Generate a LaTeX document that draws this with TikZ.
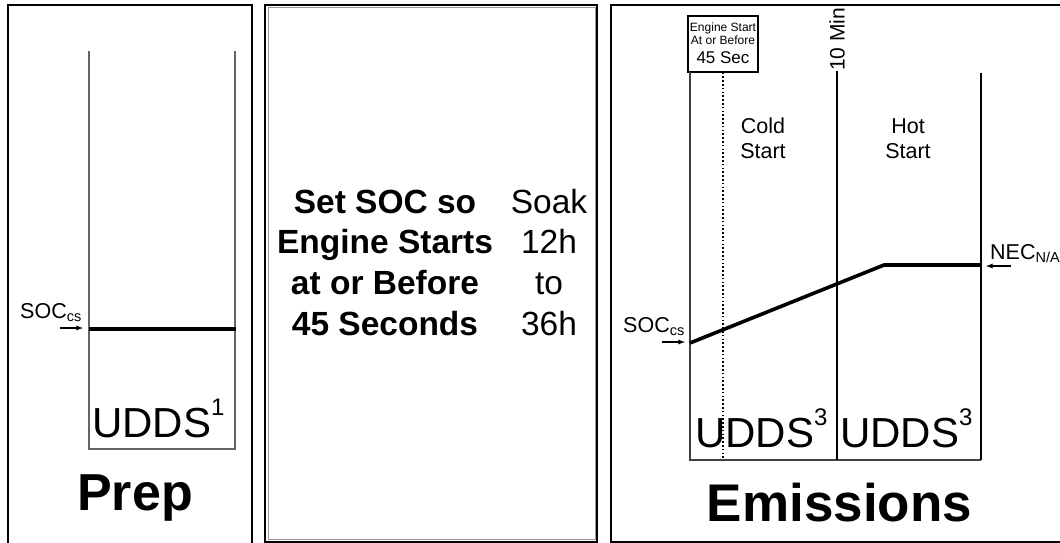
\documentclass[tikz,border=0pt]{standalone}
\usepackage{fontspec}
\setmainfont{Liberation Sans}
\usetikzlibrary{arrows.meta}
\tikzset{>=latex}
\tikzset{
  frame/.style={line width=2.8pt},
  track/.style={draw=black!60, line width=1.3pt},
  mark line/.style={line width=1.7pt},
  soc line/.style={line width=3.6pt},
  txt/.style={inner sep=0pt, anchor=base},
  small/.style={font=\fontsize{21.5}{25}\selectfont},
  cycle/.style={txt, anchor=base west, font=\fontsize{42}{44}\selectfont},
  title/.style={txt, font=\bfseries\fontsize{52}{54}\selectfont},
  mid/.style={txt, font=\fontsize{33.5}{35}\selectfont},
  pointer/.style={->, line width=1.3pt},
}
\newcommand{\lowtxt}[1]{\raisebox{-3pt}{\fontsize{14.5}{14.5}\selectfont #1}}
\newcommand{\hightxt}[1]{\raisebox{22pt}{\fontsize{24}{24}\selectfont #1}}

\begin{document}
\begin{tikzpicture}[x=1pt,y=-1pt]
            \useasboundingbox (0,0) rectangle (1060,543);
            % frames
            \draw[frame] (8,560) -- (8,5) -- (252,5) -- (252,560);
            \draw[frame] (265,5) rectangle (597,542);
            \draw[draw=black!40, line width=1pt] (268,8) rectangle (595,539);
            \draw[frame] (1070,5) -- (611,5) -- (611,542) -- (1070,542);
            % prep
            \coordinate (p1) at (89,51);
            \coordinate (p2) at (89,449);
            \coordinate (p3) at (235,449);
            \coordinate (p4) at (235,51);
            \draw[track] (p1) -- (p2) -- (p3) -- (p4);
            \coordinate (ps) at (89,329);
            \coordinate (pe) at (236,329);
            \draw[soc line] (ps) -- (pe);
            \node[txt, anchor=base west, small] (psoc) at (20,318) {SOC\lowtxt{cs}};
            \coordinate (pa) at (60,328);
            \coordinate (pb) at (83,328);
            \draw[pointer] (pa) -- (pb);
            \node[cycle] (pudds) at (92,437) {UDDS\hightxt{1}};
            \node[title] (prep) at (135,510) {Prep};
            % soak
            \foreach \t [count=\i] in {Set SOC so,Engine Starts,at or Before,45 Seconds}
                \node[mid, font=\bfseries\fontsize{33.5}{35}\selectfont] (set\i) at (385,{172.5+40.7*\i}) {\t};
            \foreach \t [count=\i] in {Soak,12h,to,36h}
                \node[mid] (soak\i) at (549,{172.5+40.7*\i}) {\t};
            % emissions
            \node[draw, line width=1.3pt, minimum width=70pt, minimum height=56pt, inner sep=0pt] (esbox) at (723,44) {};
            \node[txt, font=\fontsize{12}{12}\selectfont] (es1) at (723,32) {Engine Start};
            \node[txt, font=\fontsize{12}{12}\selectfont] (es2) at (723,45) {At or Before};
            \node[txt, font=\fontsize{17}{17}\selectfont] (es3) at (723,63.5) {45 Sec};
            \coordinate (e1) at (690,72);
            \coordinate (e2) at (690,460);
            \coordinate (e3) at (981,460);
            \coordinate (e4) at (981,73);
            \coordinate (m1) at (837,71);
            \coordinate (m2) at (837,460);
            \coordinate (d2) at (723,460);
            \draw[track, draw=black!75] (e1) -- (e2) -- (e3);
            \draw[mark line] (e3) -- (e4);
            \draw[mark line] (m1) -- (m2);
            \draw[line width=1.6pt, dash pattern=on 1.6pt off 2.2pt] (esbox.south) -- (d2);
            \node[txt, anchor=west, rotate=90, font=\fontsize{21}{21}\selectfont] (tenmin) at (m1) {10 Min};
            \foreach \t [count=\i] in {Cold,Start}
                \node[txt, small] (cold\i) at (763,{108+25*\i}) {\t};
            \foreach \t [count=\i] in {Hot,Start}
                \node[txt, small] (hot\i) at (908,{108+25*\i}) {\t};
            \coordinate (s1) at (690,343);
            \coordinate (s2) at (884,265);
            \coordinate (s3) at (981,265);
            \draw[soc line] (s1) -- (s2) -- (s3);
            \node[txt, anchor=base west, small] (esoc) at (623,332) {SOC\lowtxt{cs}};
            \coordinate (ea) at (662,342);
            \coordinate (eb) at (685,342);
            \draw[pointer] (ea) -- (eb);
            \node[txt, anchor=base west, small] (nec) at (990,259) {NEC\lowtxt{N/A}};
            \coordinate (na) at (1011,266);
            \coordinate (nb) at (986,266);
            \draw[pointer] (na) -- (nb);
            \node[cycle] (udds1) at (695,447) {UDDS\hightxt{3}};
            \node[cycle] (udds2) at (840,447) {UDDS\hightxt{3}};
            \node[title, font=\bfseries\fontsize{53}{55}\selectfont] (emis) at (839.5,521) {Emissions};
        \end{tikzpicture}
\end{document}
